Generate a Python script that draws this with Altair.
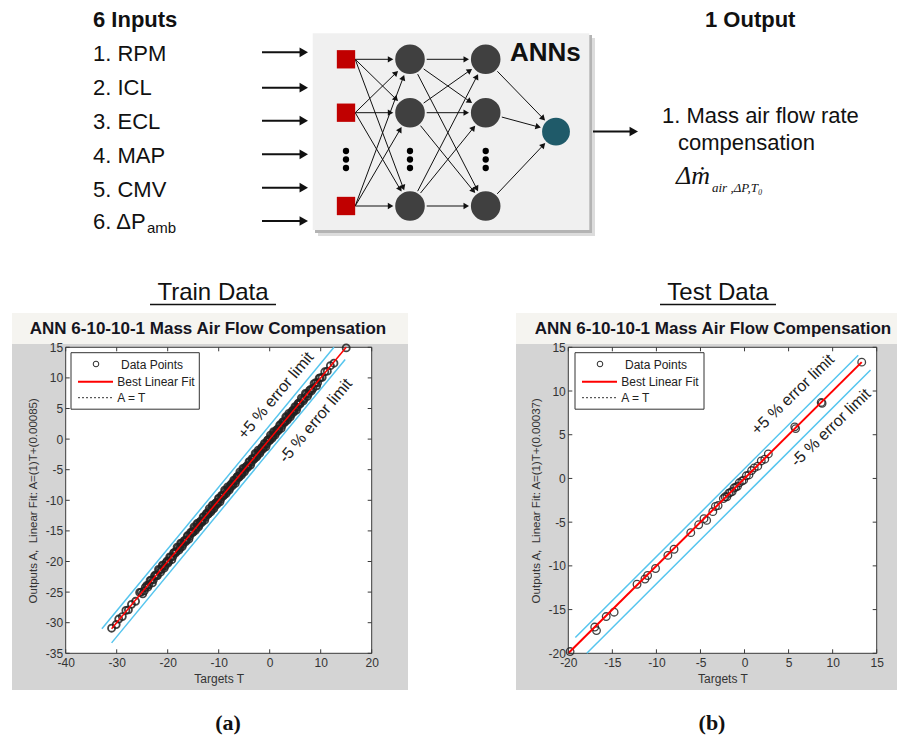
import math
import altair as alt
import pandas as pd

W, H = 900, 748
FONT = "Liberation Sans"
SERIF = "Liberation Serif"
INK = "#111111"

# ---------------- text content ----------------
inputs_title = "6 Inputs"
outputs_title = "1 Output"
net_label = "ANNs"
input_labels = ["1. RPM", "2. ICL", "3. ECL", "4. MAP", "5. CMV", "6. \u0394P"]
input_label_sub = "amb"
output_label_lines = ["1. Mass air flow rate", "compensation"]
output_symbol = "\u0394\u1e41"
output_symbol_sub = "air ,\u0394P,T\u2080"
panel_names = ["Train Data", "Test Data"]
panel_letters = ["(a)", "(b)"]
figure_title = "ANN 6-10-10-1 Mass Air Flow Compensation"
legend_labels = ["Data Points", "Best Linear Fit", "A = T"]
limit_labels = ["+5 % error limit", "-5 % error limit"]
x_title = "Targets T"
train_y_title = "Outputs A, \u00a0Linear Fit: A=(1)T+(0.00085)"
test_y_title = "Outputs A, \u00a0Linear Fit: A=(1)T+(0.00037)"

# ---------------- data values ----------------
train_T = [
    -31.0, -30.1, -29.6, -28.9, -28.2, -27.7, -27.1, -26.3, -25.2, -24.6,
    -24.1, -23.7, -23.2, -22.8, -22.4, -22.0, -21.6, -21.2, -20.9, -20.5,
    -20.1, -19.8, -19.4, -19.0, -18.7, -18.3, -18.0, -17.6, -17.3, -17.0,
    -16.6, -16.3, -16.0, -15.7, -15.3, -15.0, -14.7, -14.4, -14.1, -13.8,
    -13.5, -13.2, -12.9, -12.6, -12.3, -12.0, -11.7, -11.4, -11.1, -10.8,
    -10.5, -10.2, -9.9, -9.6, -9.3, -9.0, -8.7, -8.4, -8.1, -7.8,
    -7.5, -7.2, -6.9, -6.6, -6.3, -6.0, -5.7, -5.4, -5.1, -4.8,
    -4.5, -4.2, -3.9, -3.6, -3.3, -3.0, -2.7, -2.4, -2.1, -1.8,
    -1.5, -1.2, -0.9, -0.6, -0.3, 0.0, 0.3, 0.6, 0.9, 1.2,
    1.5, 1.8, 2.1, 2.4, 2.7, 3.0, 3.3, 3.6, 3.9, 4.2,
    4.5, 4.8, 5.1, 5.4, 5.7, 6.0, 6.4, 6.8, 7.2, 7.6,
    8.0, 8.5, 9.0, 9.4, 9.9, 10.3, 10.8, 11.3, 11.9, 12.6,
    15.0]
train_A = [
    -30.9, -30.3, -29.4, -29.0, -28.0, -27.9, -27.0, -26.5, -25.0, -24.8,
    -23.9, -23.8, -23.0, -23.0, -22.2, -22.3, -21.4, -21.3, -20.7, -20.7,
    -19.9, -20.0, -19.3, -19.2, -18.5, -18.4, -17.8, -17.8, -17.1, -17.2,
    -16.5, -16.5, -15.8, -15.9, -15.2, -15.2, -14.5, -14.6, -13.9, -14.0,
    -13.4, -13.4, -12.7, -12.8, -12.1, -12.2, -11.6, -11.6, -10.9, -11.0,
    -10.4, -10.4, -9.7, -9.8, -9.2, -9.2, -8.5, -8.6, -8.0, -8.0,
    -7.3, -7.4, -6.8, -6.8, -6.1, -6.2, -5.6, -5.6, -4.9, -5.0,
    -4.4, -4.4, -3.7, -3.8, -3.2, -3.2, -2.5, -2.6, -2.0, -2.0,
    -1.3, -1.4, -0.8, -0.8, -0.1, -0.2, 0.4, 0.4, 1.1, 1.0,
    1.6, 1.6, 2.3, 2.2, 2.8, 2.8, 3.5, 3.4, 4.0, 4.0,
    4.7, 4.6, 5.2, 5.2, 5.9, 5.8, 6.5, 6.6, 7.4, 7.4,
    8.1, 8.3, 9.2, 9.2, 10.0, 10.1, 11.0, 11.1, 12.0, 12.4,
    14.9]
# second batch of training samples (dense middle of the band)
train2_T = [
    -25.5, -24.9, -24.4, -23.9, -23.45, -23.0, -22.6, -22.2, -21.8, -21.4,
    -21.05, -20.7, -20.3, -19.95, -19.6, -19.2, -18.85, -18.5, -18.15, -17.8,
    -17.45, -17.15, -16.8, -16.45, -16.15, -15.85, -15.5, -15.15, -14.85, -14.55,
    -14.25, -13.95, -13.65, -13.35, -13.05, -12.75, -12.45, -12.15, -11.85, -11.55,
    -11.25, -10.95, -10.65, -10.35, -10.05, -9.75, -9.45, -9.15, -8.85, -8.55,
    -8.25, -7.95, -7.65, -7.35, -7.05, -6.75, -6.45, -6.15, -5.85, -5.55,
    -5.25, -4.95, -4.65, -4.35, -4.05, -3.75, -3.45, -3.15, -2.85, -2.55,
    -2.25, -1.95, -1.65, -1.35, -1.05, -0.75, -0.45, -0.15, 0.15, 0.45,
    0.75, 1.05, 1.35, 1.65, 1.95, 2.25, 2.55, 2.85, 3.15, 3.45,
    3.75, 4.05, 4.35, 4.65, 4.95, 5.25, 5.55, 5.85, 6.2, 6.6,
    7.0, 7.4, 7.8, 8.2, 8.7, 9.2, 9.7]
train2_A = [
    -25.05, -25.3, -24.25, -24.2, -23.1, -23.5, -22.35, -22.35, -21.3, -21.75,
    -20.6, -21.1, -20.15, -20.25, -19.25, -19.7, -18.6, -18.65, -17.65, -18.15,
    -17.0, -17.55, -16.65, -16.75, -15.8, -16.35, -15.25, -15.3, -14.35, -14.9,
    -13.8, -14.35, -13.5, -13.65, -12.7, -13.25, -12.2, -12.3, -11.35, -11.9,
    -10.8, -11.35, -10.5, -10.65, -9.7, -10.25, -9.2, -9.3, -8.35, -8.9,
    -7.8, -8.35, -7.5, -7.65, -6.7, -7.25, -6.2, -6.3, -5.35, -5.9,
    -4.8, -5.35, -4.5, -4.65, -3.7, -4.25, -3.2, -3.3, -2.35, -2.9,
    -1.8, -2.35, -1.5, -1.65, -0.7, -1.25, -0.2, -0.3, 0.65, 0.1,
    1.2, 0.65, 1.5, 1.35, 2.3, 1.75, 2.8, 2.7, 3.65, 3.1,
    4.2, 3.65, 4.5, 4.35, 5.3, 4.75, 5.8, 5.7, 6.7, 6.25,
    7.45, 7.0, 7.95, 7.9, 9.05, 8.7, 9.95]
test_T = [-19.8, -17.0, -16.8, -15.7, -14.8, -12.2, -11.3, -11.0, -10.1, -8.7,
          -8.0, -6.1, -5.2, -4.6, -4.3, -3.6, -3.3, -3.0, -2.4, -2.2,
          -2.0, -1.8, -1.6, -1.4, -1.2, -1.0, -0.8, -0.6, -0.3, -0.1,
          0.2, 0.5, 0.8, 1.1, 1.5, 1.9, 2.3, 2.7, 5.7, 5.8,
          8.7, 8.8, 13.3]
test_A = [-19.8, -17.0, -17.4, -15.8, -15.3, -12.1, -11.5, -11.1, -10.3, -8.8,
          -8.1, -6.2, -5.3, -4.6, -4.8, -3.8, -3.2, -3.1, -2.3, -2.1,
          -2.1, -1.7, -1.6, -1.5, -1.1, -1.0, -0.9, -0.5, -0.3, -0.2,
          0.3, 0.4, 0.9, 1.2, 1.4, 2.0, 2.2, 2.8, 5.9, 5.7,
          8.7, 8.6, 13.3]

train_fit_T = [-31.0, 15.0]
train_fit_A = [-31.0, 15.0]
test_fit_T = [-20.0, 13.3]
test_fit_A = [-20.0, 13.3]
train_upper_T = [-32.9, 12.6]
train_upper_A = [-31.0, 15.0]
train_lower_T = [-31.0, 14.8]
train_lower_A = [-33.3, 13.0]
test_upper_T = [-19.2, 12.9]
test_upper_A = [-18.2, 14.1]
test_lower_T = [-17.9, 14.3]
test_lower_A = [-20.0, 12.4]

train_x_dom, train_y_dom = [-40, 20], [-35, 15]
test_x_dom, test_y_dom = [-20, 15], [-20, 15]
train_xticks = [-40, -30, -20, -10, 0, 10, 20]
train_yticks = [-35, -30, -25, -20, -15, -10, -5, 0, 5, 10, 15]
test_xticks = [-20, -15, -10, -5, 0, 5, 10, 15]
test_yticks = [-20, -15, -10, -5, 0, 5, 10, 15]
train_label_pos = [(1.2, 7.1), (9.0, 3.0)]
test_label_pos = [(5.5, 9.6), (9.8, 5.8)]

# ---------------- layout (pixels) ----------------
sx = alt.Scale(domain=[0, W], range=[0, W], nice=False, zero=False)
sy = alt.Scale(domain=[0, H], range=[0, H], nice=False, zero=False)


def PX(f):
    return alt.X(f, type="quantitative", scale=sx, axis=None)


def PY(f):
    return alt.Y(f, type="quantitative", scale=sy, axis=None)


def prect(rows, **kw):
    df = pd.DataFrame(rows, columns=["x", "x2", "y", "y2"])
    return alt.Chart(df).mark_rect(**kw).encode(x=PX("x"), x2="x2", y=PY("y"), y2="y2")


def prule(rows, **kw):
    df = pd.DataFrame(rows, columns=["x", "y", "x2", "y2"])
    return alt.Chart(df).mark_rule(**kw).encode(x=PX("x"), y=PY("y"), x2="x2", y2="y2")


def ptext(rows, **kw):
    df = pd.DataFrame(rows, columns=["x", "y", "text"])
    return alt.Chart(df).mark_text(**kw).encode(x=PX("x"), y=PY("y"), text="text:N")


def ppoint(rows, mark, **kw):
    df = pd.DataFrame(rows, columns=["x", "y"])
    return getattr(alt.Chart(df), mark)(**kw).encode(x=PX("x"), y=PY("y"))


def pheads(rows, size):
    df = pd.DataFrame(rows, columns=["x", "y", "ang"])
    return alt.Chart(df).mark_point(shape="triangle-right", filled=True, color=INK,
                                    size=size, opacity=1, strokeWidth=0).encode(
        x=PX("x"), y=PY("y"), angle=alt.Angle("ang:Q", scale=None))


def arrows(segs, size):
    h = 0.866 * math.sqrt(size) / 2
    lines, heads = [], []
    for x1, y1, x2, y2 in segs:
        dx, dy = x2 - x1, y2 - y1
        L = math.hypot(dx, dy)
        ux, uy = dx / L, dy / L
        lines.append((x1, y1, x2 - ux * h * 1.2, y2 - uy * h * 1.2))
        heads.append((x2 - ux * h, y2 - uy * h, math.degrees(math.atan2(dy, dx)) % 360))
    return lines, heads


def edge_seg(c1, r1, c2, r2):
    dx, dy = c2[0] - c1[0], c2[1] - c1[1]
    L = math.hypot(dx, dy)
    ux, uy = dx / L, dy / L
    return (c1[0] + ux * r1, c1[1] + uy * r1, c2[0] - ux * r2, c2[1] - uy * r2)


# diagram geometry
row_base = [60.5, 95.0, 128.5, 162.5, 196.5, 229.0]
arrow_y = [52.3, 87.7, 120.7, 154.3, 187.7, 221.0]
node_y = [59.3, 112.7, 206.0]
dots_y = [151.0, 159.5, 168.0]
in_x, h1_x, h2_x = 346.0, 410.0, 485.7
out_c = (556.0, 131.7)
node_r, out_r, sq_half = 16.7, 15.7, 9.2

net_segs = []
for yi in node_y:
    for yj in node_y:
        net_segs.append(edge_seg((in_x + sq_half, yi), 0, (h1_x, yj), node_r))
for yi in node_y:
    for yj in node_y:
        net_segs.append(edge_seg((h1_x, yi), node_r, (h2_x, yj), node_r))
for yi in node_y:
    net_segs.append(edge_seg((h2_x, yi), node_r, out_c, out_r))
net_lines, net_heads = arrows(net_segs, 40)
io_lines, io_heads = arrows([(262, ay, 308, ay) for ay in arrow_y] + [(593, 131.5, 638, 131.5)], 95)

frames = [(12, 408, 313, 690), (516, 897, 313, 690)]
strips = [(12, 408, 313, 344), (516, 897, 313, 344)]

deco_back = alt.layer(
    prect(frames, color="#d4d4d4"),
    prect(strips, color="#f5f4f0"),
    prect([(318, 595, 38, 236)], color="#dcdcdc"),
    prect([(315, 592, 35, 233)], color="#b4b4b4"),
    prect([(312.7, 589.3, 33.3, 230)], color="#f0f0f0"),
    prule(net_lines, color=INK, strokeWidth=1),
    pheads(net_heads, 40),
    prule(io_lines, color=INK, strokeWidth=2),
    pheads(io_heads, 95),
    ppoint([(in_x, y) for y in node_y], "mark_point", shape="square", filled=True,
           color="#c00000", size=336, opacity=1, strokeWidth=0),
    ppoint([(x, y) for x in (h1_x, h2_x) for y in node_y], "mark_circle",
           color="#404040", size=876, opacity=1),
    ppoint([out_c], "mark_circle", color="#1f5a69", size=774, opacity=1),
    ppoint([(x, y) for x in (in_x, h1_x, h2_x) for y in dots_y], "mark_circle",
           color="black", size=40, opacity=1),
    ptext([(93, 27, inputs_title), (705, 27, outputs_title)], font=FONT, fontSize=22,
          fontWeight="bold", align="left", baseline="alphabetic", color=INK),
    ptext([(510, 60.5, net_label)], font=FONT, fontSize=26, fontWeight="bold",
          align="left", baseline="alphabetic", color=INK),
    ptext(list(zip([93] * 6, row_base, input_labels)), font=FONT, fontSize=22,
          align="left", baseline="alphabetic", color=INK),
    ptext([(147, 233, input_label_sub)], font=FONT, fontSize=15, align="left",
          baseline="alphabetic", color=INK),
    ptext([(662, 123, output_label_lines[0]), (678, 150, output_label_lines[1])],
          font=FONT, fontSize=22, align="left", baseline="alphabetic", color=INK),
    ptext([(676, 184, output_symbol)], font=SERIF, fontSize=26, fontStyle="italic",
          align="left", baseline="alphabetic", color=INK),
    ptext([(712, 192, output_symbol_sub)], font=SERIF, fontSize=13, fontStyle="italic",
          align="left", baseline="alphabetic", color=INK),
    ptext([(213, 300, panel_names[0]), (718, 300, panel_names[1])], font=FONT,
          fontSize=24, align="center", baseline="alphabetic", color=INK),
    prule([(150, 304.5, 276, 304.5), (660, 304.5, 776, 304.5)], color=INK, strokeWidth=1.5),
    ptext([(208, 334, figure_title), (713, 334, figure_title)], font=FONT, fontSize=17,
          fontWeight="bold", align="center", baseline="alphabetic", color="#15151f"),
    ptext([(228, 730, panel_letters[0]), (712, 730, panel_letters[1])], font=SERIF,
          fontSize=22, fontWeight="bold", align="center", baseline="alphabetic", color=INK),
)


def panel(T, A, fitT, fitA, upT, upA, loT, loA, xdom, ydom, xr, yr, xticks, yticks,
          ytitle, label_pos, ang, pt_size, pt_w, fit_w):
    xs = alt.Scale(domain=xdom, range=xr, nice=False, zero=False)
    ys = alt.Scale(domain=ydom, range=yr, nice=False, zero=False)
    common = dict(grid=False, domain=False, ticks=False, tickSize=0, labelFlush=False,
                  labelOverlap=False, labelFont=FONT, labelFontSize=12,
                  labelColor="#333333", titleFont=FONT, titleFontWeight="normal",
                  titleColor="#333333", zindex=1, labelExpr="'' + datum.value")
    xaxis = alt.Axis(orient="bottom", offset=yr[0] - H, values=xticks, title=x_title,
                     labelPadding=4, titleFontSize=12, titlePadding=4,
                     minExtent=16, maxExtent=16, **common)
    yaxis = alt.Axis(orient="left", offset=-xr[0], values=yticks, title=ytitle,
                     labelPadding=3, titleFontSize=11.5, titlePadding=7,
                     minExtent=20, maxExtent=20, **common)

    def X(f):
        return alt.X(f, type="quantitative", scale=xs, axis=xaxis)

    def Y(f):
        return alt.Y(f, type="quantitative", scale=ys, axis=yaxis)

    bg = alt.Chart(pd.DataFrame([{"T": xdom[0], "T2": xdom[1], "A": ydom[0], "A2": ydom[1]}])
                   ).mark_rect(fill="white", stroke="#3a3a3a", strokeWidth=1).encode(
        x=X("T"), x2="T2", y=Y("A"), y2="A2")

    dx = 4 * (xdom[1] - xdom[0]) / (xr[1] - xr[0])
    dy = 4 * (ydom[1] - ydom[0]) / (yr[0] - yr[1])
    trows = []
    for t in xticks:
        trows.append((t, ydom[0], t, ydom[0] + dy))
        trows.append((t, ydom[1], t, ydom[1] - dy))
    for t in yticks:
        trows.append((xdom[0], t, xdom[0] + dx, t))
        trows.append((xdom[1], t, xdom[1] - dx, t))
    ticks = alt.Chart(pd.DataFrame(trows, columns=["T", "A", "T2", "A2"])).mark_rule(
        color="#3a3a3a", strokeWidth=1).encode(x=X("T"), y=Y("A"), x2="T2", y2="A2")

    lim_df = pd.DataFrame({"T": upT + loT, "A": upA + loA,
                           "g": ["up"] * len(upT) + ["lo"] * len(loT)})
    lims = alt.Chart(lim_df).mark_line(color="#55c5ee", strokeWidth=1.5).encode(
        x=X("T"), y=Y("A"), detail="g:N")

    pts = alt.Chart(pd.DataFrame({"T": T, "A": A})).mark_point(
        shape="circle", filled=False, color="#222222", size=pt_size, strokeWidth=pt_w,
        opacity=0.85).encode(x=X("T"), y=Y("A"))

    fit = alt.Chart(pd.DataFrame({"T": fitT, "A": fitA})).mark_line(
        color="#ff0000", strokeWidth=fit_w).encode(x=X("T"), y=Y("A"))

    lab_df = pd.DataFrame({"T": [p[0] for p in label_pos], "A": [p[1] for p in label_pos],
                           "text": limit_labels})
    labs = alt.Chart(lab_df).mark_text(font=FONT, fontSize=16, angle=ang, color="#222222",
                                       align="center", baseline="middle").encode(
        x=X("T"), y=Y("A"), text="text:N")

    return alt.layer(bg, lims, pts, fit, ticks, labs)


left = panel(train_T + train2_T, train_A + train2_A, train_fit_T, train_fit_A,
             train_upper_T, train_upper_A, train_lower_T, train_lower_A,
             train_x_dom, train_y_dom, [65.7, 371.7], [653.3, 347.3],
             train_xticks, train_yticks, train_y_title, train_label_pos, 310, 50, 1.8, 1.5)
right = panel(test_T, test_A, test_fit_T, test_fit_A, test_upper_T, test_upper_A,
              test_lower_T, test_lower_A, test_x_dom, test_y_dom, [568.3, 876.7],
              [653.3, 347.3], test_xticks, test_yticks, test_y_title, test_label_pos,
              316, 58, 1.3, 2)

# legends (front)
leg_boxes, leg_circ, leg_red, leg_dot, leg_t1, leg_t2 = [], [], [], [], [], []
for x0, y0, w in [(71, 352.7, 128.3), (575, 352.7, 129.0)]:
    leg_boxes.append((x0, x0 + w, y0, y0 + 56.5))
    leg_circ.append((x0 + 25, y0 + 11.3))
    leg_red.append((x0 + 7, y0 + 29, x0 + 42, y0 + 29))
    leg_dot.append((x0 + 7, y0 + 45, x0 + 42, y0 + 45))
    leg_t1.append((x0 + 50, y0 + 11.8, legend_labels[0]))
    leg_t2.append((x0 + 46.3, y0 + 29.5, legend_labels[1]))
    leg_t2.append((x0 + 46.3, y0 + 45.5, legend_labels[2]))

deco_front = alt.layer(
    prect(leg_boxes, fill="white", stroke="#333333", strokeWidth=1),
    ppoint(leg_circ, "mark_point", shape="circle", filled=False, color="#2a2a2a",
           size=32, strokeWidth=1, opacity=1),
    prule(leg_red, color="#ff0000", strokeWidth=2),
    prule(leg_dot, color="#333333", strokeWidth=1, strokeDash=[2, 2]),
    ptext(leg_t1 + leg_t2, font=FONT, fontSize=12, align="left", baseline="middle",
          color="#222222"),
)

chart = alt.layer(deco_back, left, right, deco_front).resolve_scale(
    x="independent", y="independent"
).properties(
    width=W, height=H, padding=0, autosize=alt.AutoSizeParams(type="none"),
    background="white"
).configure_view(stroke=None)

chart.save("out.html", embed_options={"renderer": "svg", "actions": False})
